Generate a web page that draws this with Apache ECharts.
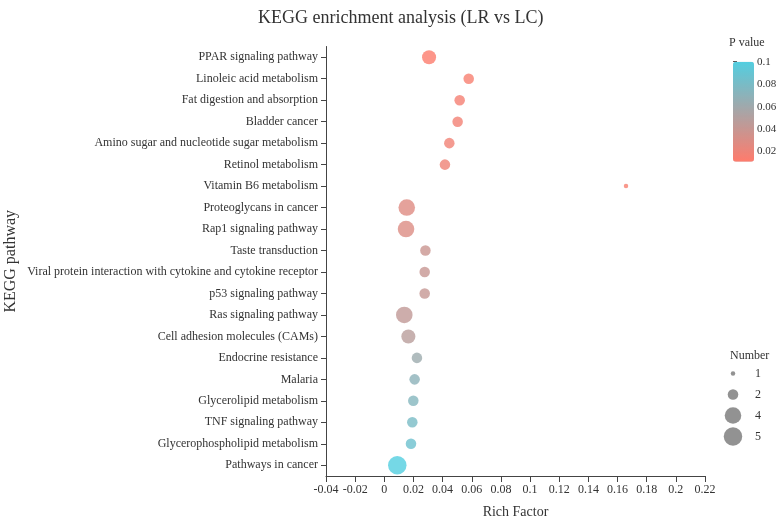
<!DOCTYPE html>
<html>
<head>
<meta charset="utf-8">
<script src="https://cdn.jsdelivr.net/npm/echarts@6/dist/echarts.min.js"></script>
<style>
  html, body { margin: 0; padding: 0; background: #fff; }
  #main { width: 782px; height: 518px; }
</style>
</head>
<body>
<div id="main"></div>
<script>
const pathways = [
  'PPAR signaling pathway',
  'Linoleic acid metabolism',
  'Fat digestion and absorption',
  'Bladder cancer',
  'Amino sugar and nucleotide sugar metabolism',
  'Retinol metabolism',
  'Vitamin B6 metabolism',
  'Proteoglycans in cancer',
  'Rap1 signaling pathway',
  'Taste transduction',
  'Viral protein interaction with cytokine and cytokine receptor',
  'p53 signaling pathway',
  'Ras signaling pathway',
  'Cell adhesion molecules (CAMs)',
  'Endocrine resistance',
  'Malaria',
  'Glycerolipid metabolism',
  'TNF signaling pathway',
  'Glycerophospholipid metabolism',
  'Pathways in cancer'
];
const richFactor = [0.0307, 0.0579, 0.0517, 0.0503, 0.0446, 0.0416, 0.1658, 0.0154, 0.0149, 0.0282,
  0.0277, 0.0277, 0.0137, 0.0165, 0.0224, 0.0208, 0.0199, 0.0192, 0.0183, 0.0089];
const pValue = [0.012, 0.015, 0.016, 0.017, 0.018, 0.019, 0.015, 0.028, 0.029, 0.039,
  0.040, 0.041, 0.043, 0.047, 0.062, 0.070, 0.074, 0.080, 0.086, 0.100];
const geneNumber = [3, 2, 2, 2, 2, 2, 1, 4, 4, 2, 2, 2, 4, 3, 2, 2, 2, 2, 2, 5];

const pTicks = [0.02, 0.04, 0.06, 0.08, 0.1];
const numberLegend = [1, 2, 4, 5];

const FONT = 'Liberation Serif';
const TXT = '#333';

function dotSize(n) {
  return 4.5 + 8.7 * Math.log(n);
}

var chartDom = document.getElementById('main');
var myChart = echarts.init(chartDom);
var option;

const points = pathways.map((name, i) => [richFactor[i], name, pValue[i], geneNumber[i]]);

option = {
  animation: false,
  textStyle: { fontFamily: FONT, color: TXT },
  title: [
    {
      text: 'KEGG enrichment analysis (LR vs LC)',
      left: 253,
      top: 4,
      textStyle: { fontFamily: FONT, fontSize: 18, fontWeight: 'normal', color: TXT }
    },
    {
      text: 'P value',
      left: 724,
      top: 32,
      textStyle: { fontFamily: FONT, fontSize: 12, fontWeight: 'normal', color: TXT }
    },
    {
      text: 'Number',
      left: 725,
      top: 345,
      textStyle: { fontFamily: FONT, fontSize: 12, fontWeight: 'normal', color: TXT }
    }
  ],
  grid: [
    { left: 326, top: 46.5, width: 379, height: 429.5, outerBoundsMode: 'none' },
    { left: 733, top: 61.7, width: 21, height: 100, outerBoundsMode: 'none' },
    { left: 723, top: 363, width: 20, height: 84, outerBoundsMode: 'none' }
  ],
  xAxis: [
    {
      gridIndex: 0,
      type: 'value',
      min: -0.04,
      max: 0.22,
      interval: 0.02,
      name: 'Rich Factor',
      nameLocation: 'middle',
      nameGap: 29,
      nameTextStyle: { fontFamily: FONT, fontSize: 14, color: TXT },
      axisLine: { show: true, onZero: false, lineStyle: { color: '#444', width: 1 } },
      axisTick: { show: true, length: 6, lineStyle: { color: '#444' } },
      axisLabel: { fontFamily: FONT, fontSize: 12, color: TXT, margin: 8 },
      splitLine: { show: false }
    },
    { gridIndex: 1, type: 'value', show: false, min: 0, max: 1 },
    { gridIndex: 2, type: 'value', show: false, min: 0, max: 1 }
  ],
  yAxis: [
    {
      gridIndex: 0,
      type: 'category',
      data: pathways,
      inverse: true,
      name: 'KEGG pathway',
      nameLocation: 'middle',
      nameGap: 307,
      nameTextStyle: { fontFamily: FONT, fontSize: 16, color: TXT },
      axisLine: { show: true, onZero: false, lineStyle: { color: '#444', width: 1 } },
      axisTick: { show: true, alignWithLabel: true, length: 5, lineStyle: { color: '#444' } },
      axisLabel: { fontFamily: FONT, fontSize: 12, color: TXT, margin: 8 },
      splitLine: { show: false }
    },
    {
      gridIndex: 1,
      type: 'value',
      position: 'right',
      min: 0.011,
      max: 0.1,
      axisLine: { show: false },
      axisTick: { show: true, length: 4, customValues: pTicks, lineStyle: { color: '#555' } },
      axisLabel: { fontFamily: FONT, fontSize: 11, color: TXT, margin: 3, customValues: pTicks },
      splitLine: { show: false }
    },
    {
      gridIndex: 2,
      type: 'category',
      position: 'right',
      inverse: true,
      data: numberLegend.map(String),
      axisLine: { show: false },
      axisTick: { show: false },
      axisLabel: { fontFamily: FONT, fontSize: 12, color: TXT, margin: 12 },
      splitLine: { show: false }
    }
  ],
  visualMap: {
    type: 'continuous',
    seriesIndex: 0,
    dimension: 2,
    min: 0.011,
    max: 0.1,
    left: 733,
    top: 61.7,
    padding: 0,
    itemWidth: 21,
    itemHeight: 100,
    calculable: false,
    hoverLink: false,
    inRange: { color: ['#ff7b6c', '#52cee0'] }
  },
  series: [
    {
      type: 'scatter',
      xAxisIndex: 0,
      yAxisIndex: 0,
      data: points,
      symbolSize: (v) => dotSize(v[3]),
      itemStyle: { opacity: 0.8 }
    },
    {
      type: 'scatter',
      xAxisIndex: 2,
      yAxisIndex: 2,
      data: numberLegend.map((n) => [0.5, String(n), n]),
      symbolSize: (v) => dotSize(v[2]),
      itemStyle: { color: '#777' },
      silent: true
    }
  ]
};

option && myChart.setOption(option);
</script>
</body>
</html>
